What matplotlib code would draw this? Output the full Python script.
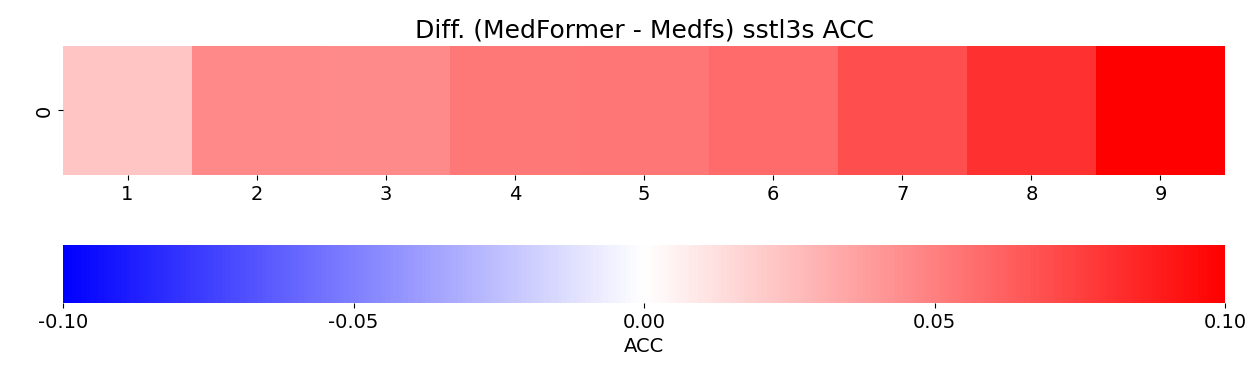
import matplotlib
matplotlib.use("Agg")
import matplotlib.pyplot as plt
import matplotlib.ticker as mticker
import numpy as np
import seaborn as sns

categories = [1, 2, 3, 4, 5, 6, 7, 8, 9]
row_labels = ["0"]
acc_diff = [0.023, 0.0467, 0.0458, 0.053, 0.0535, 0.0585, 0.0695, 0.081, 0.105]
title = "Diff. (MedFormer - Medfs) sstl3s ACC"
cbar_label = "ACC"

fig = plt.figure(figsize=(12.5, 3.8), dpi=100)
ax = fig.add_axes([0.0504, 0.5395, 0.9296, 0.3395])
cax = fig.add_axes([0.0504, 0.2026, 0.9296, 0.1526])

data = np.array([acc_diff])
sns.heatmap(data, ax=ax, cbar_ax=cax, cmap="bwr", vmin=-0.1, vmax=0.1,
            xticklabels=categories, yticklabels=row_labels,
            cbar_kws={"orientation": "horizontal", "label": cbar_label})
ax.set_title(title, fontsize=18)
ax.tick_params(axis="both", labelsize=14)
plt.setp(ax.get_yticklabels(), rotation=90, va="center")
cax.tick_params(labelsize=14)
cax.xaxis.set_major_locator(mticker.FixedLocator([-0.1, -0.05, 0.0, 0.05, 0.1]))
cax.xaxis.set_major_formatter(mticker.FormatStrFormatter("%.2f"))
cax.set_xlabel(cbar_label, fontsize=14)
for s in cax.spines.values():
    s.set_visible(False)
cbar = ax.collections[0].colorbar
if cbar is not None:
    cbar.outline.set_visible(False)

fig.savefig("out.png", dpi=100)
